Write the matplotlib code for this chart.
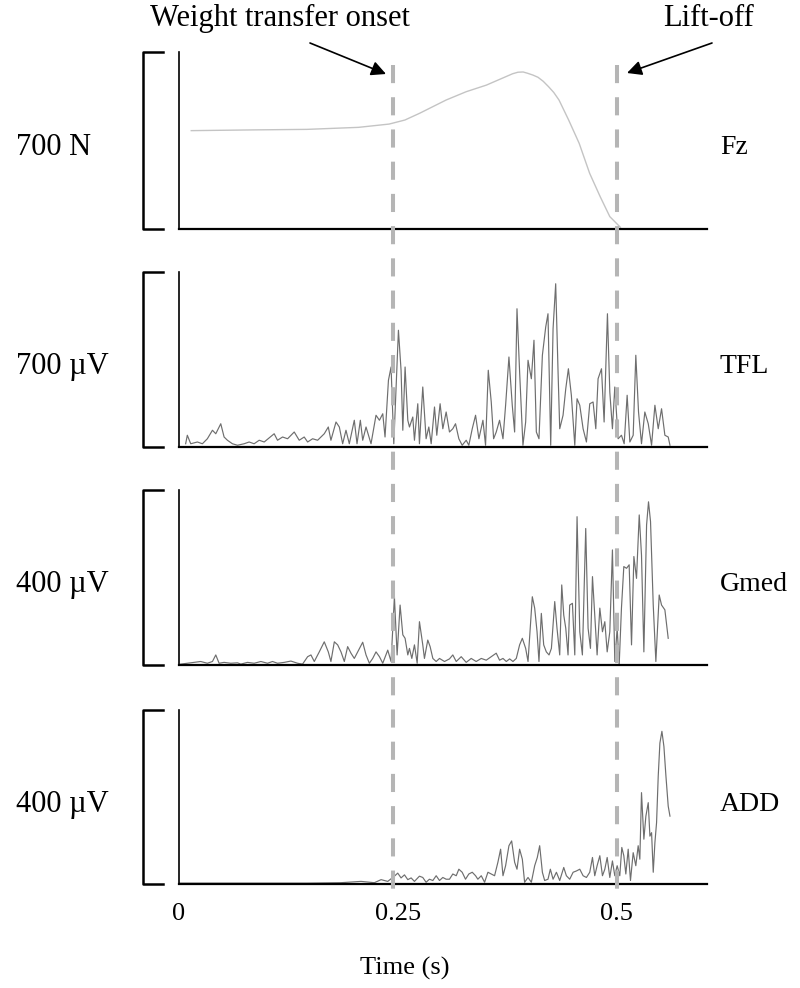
import numpy as np
import matplotlib
matplotlib.use('Agg')
import matplotlib.pyplot as plt
from matplotlib import transforms
from matplotlib.lines import Line2D
from matplotlib.patches import FancyArrowPatch

plt.rcParams['font.family'] = ['Liberation Serif', 'DejaVu Serif']

# vertical ground reaction force (ms, N)
fz_t = [14, 87, 146, 205, 240, 258, 275, 305, 328, 351, 363, 375, 381, 387,
        393, 398, 404, 410, 416, 422, 428, 434, 445, 457, 469, 481, 492, 504]
fz_n = [389, 392, 394, 402, 415, 431, 458, 510, 543, 569, 587, 605, 614, 620,
        621, 616, 609, 600, 584, 563, 540, 510, 431, 339, 220, 128, 49, 7]

# TFL emg (ms, uV)
tfl_t = [7.6, 9.5, 13.4, 21, 26.7, 32.4, 38.2, 42, 47.7, 51.5,
         55.3, 61, 66.8, 74.4, 80.1, 85.8, 91.6, 97.3, 108.7, 112.5,
         118.3, 124, 131.6, 137.3, 143, 146.9, 152.6, 158.3, 162.1, 165.9,
         170.5, 173.5, 179.3, 183.1, 186.9, 190.7, 194.5, 200.2, 203.3, 207.1,
         209.8, 213.6, 219.3, 225, 228.9, 232.7, 235.3, 239.2, 242.2, 245.3,
         250.6, 253.6, 255.6, 258.2, 261.3, 263.2, 267, 268.9, 272.7, 274.6,
         278.4, 282.2, 285.3, 288, 291.8, 294.4, 298.2, 301.3, 305.1, 308.9,
         312.7, 315.8, 319.6, 323.4, 328, 331, 334.9, 338.7, 342.5, 347.1,
         350.1, 353.2, 356.6, 359.3, 362.3, 366.1, 370, 373, 376.8, 380.6,
         383.3, 386, 389, 392.8, 395.9, 398.6, 402.4, 405.4, 408.1, 411.1,
         415, 418.8, 421.4, 424.5, 427.2, 430.2, 432.9, 434.8, 438.6, 441.7,
         444.7, 448.1, 452, 454.6, 457.7, 461.5, 465.3, 469.1, 472.9, 476,
         478.6, 482.5, 485.5, 489.3, 492, 495, 497.7, 501.5, 505.3, 508.4,
         511.8, 514.9, 518.7, 521.7, 524.8, 528.2, 532, 535.9, 539.7, 543.5,
         547.3, 551.1, 554.9, 558.7, 560.7]
tfl_uv = [13, 47, 13, 20, 13, 33, 67, 53, 93, 40,
          27, 13, 7, 13, 20, 13, 27, 20, 53, 27,
          40, 33, 60, 27, 40, 20, 33, 27, 40, 53,
          80, 27, 100, 80, 13, 67, 13, 107, 13, 107,
          27, 80, 13, 127, 107, 133, 40, 267, 320, 13,
          467, 307, 67, 320, 107, 80, 120, 27, 173, 13,
          240, 33, 80, 13, 160, 47, 173, 73, 140, 60,
          73, 93, 33, 7, 27, 7, 73, 127, 33, 107,
          7, 307, 180, 33, 60, 107, 33, 167, 360, 167,
          60, 553, 300, 7, 100, 347, 273, 427, 60, 33,
          367, 480, 533, 7, 473, 653, 300, 73, 127, 233,
          313, 207, 7, 193, 167, 73, 20, 173, 180, 73,
          273, 313, 100, 533, 220, 73, 240, 33, 47, 13,
          207, 20, 47, 367, 140, 13, 140, 93, 7, 167,
          73, 153, 47, 40, 7]

# Gmed emg (ms, uV)
gmed_t = [1.9, 9.5, 17.2, 24.8, 32.4, 38.2, 42, 45.8, 51.5, 59.1,
          66.8, 70.6, 78.2, 85.8, 93.5, 101.1, 106.8, 112.5, 120.2, 127.8,
          135.4, 141.1, 146.9, 150.7, 154.5, 160.2, 165.9, 170.5, 173.5, 177.4,
          181.2, 185, 188.8, 192.6, 196.4, 200.2, 204.1, 209.8, 213.6, 217.4,
          221.2, 225, 228.9, 232.7, 238.4, 242.2, 246, 249.1, 252.5, 255.6,
          258.2, 261.3, 263.2, 265.9, 268.9, 272, 274.6, 278.4,
          280.3, 284.1, 286.8, 289.9, 293.7, 297.5, 303.2, 308.9, 312.7, 316.6,
          322.3, 328, 333.7, 339.4, 345.2, 350.9, 356.6, 362.3, 366.1, 370,
          373.8, 377.6, 381.4, 385.2, 389, 392.1, 395.9, 398.6, 403.5, 406.2,
          408.9, 411.1, 413.8, 416.5, 419.5, 422.6, 425.3, 429.1, 431.7, 434.8,
          437.1, 439.4, 441.7, 444.3, 446.2, 449.3, 452, 454.6, 457.7, 460.7,
          464.5, 467.2, 469.9, 472.2, 474.8, 477.5, 480.6, 483.6, 486.3, 489,
          492, 495, 497.7, 500.4, 502.7, 505.3, 508, 511.1, 514.1, 516.8,
          519.5, 522.5, 525.6, 528.2, 530.9, 534, 536.2, 538.5, 541.6, 544.6,
          548.4, 551.1, 554.9, 558.7]
gmed_uv = [2, 4, 6, 8, 4, 8, 23, 4, 6, 4,
           5, 2, 6, 4, 8, 4, 8, 4, 6, 9,
           4, 2, 19, 23, 8, 30, 53, 30, 8, 53,
           46, 30, 8, 42, 27, 15, 30, 52, 23, 4,
           15, 30, 19, 4, 34, 8, 156, 23, 137, 69,
           61, 23, 38, 15, 46, 4, 99, 46,
           15, 57, 42, 15, 8, 15, 8, 14, 23, 8,
           19, 6, 15, 8, 15, 11, 19, 27, 11, 15,
           8, 14, 8, 15, 46, 61, 38, 8, 156, 130,
           76, 8, 118, 46, 30, 23, 38, 145, 84, 23,
           183, 114, 84, 23, 137, 141, 23, 339, 76, 23,
           312, 84, 38, 202, 114, 23, 130, 76, 99, 30,
           76, 263, 8, 84, 0, 130, 225, 221, 229, 46,
           248, 198, 343, 251, 30, 320, 373, 328, 137, 8,
           160, 137, 126, 61]

# ADD emg (ms, uV)
add_t = [0, 32.4, 70.6, 108.7, 146.9, 185, 207.9, 223.1, 230.8, 238.4,
         246, 249.8, 253.6, 257.5, 261.3, 265.1, 268.9, 274.6,
         278.4, 282.2, 286, 289.9, 293.7, 297.5, 301.3, 305.1, 308.9, 312.7,
         316.6, 319.6, 323.4, 327.2, 331, 334.9, 338.7, 341.3, 345.2, 349,
         352.8, 356.6, 360.4, 364.2, 367.3, 370, 373, 376.8, 379.9, 383.3,
         386, 389, 392.1, 394.7, 398.6, 402.4, 406.2, 409.2, 411.9, 415,
         417.6, 421.4, 424.1, 427.2, 431, 434.8, 439.4, 442.4, 446.2, 450.1,
         453.9, 457.7, 461.5, 465.3, 469.1, 472.2, 474.8, 477.5, 480.6, 483.6,
         486.3, 489, 492, 495, 497.7, 500.4, 503.4, 505.7, 508, 510.3,
         513, 515.6, 518.7, 521.7, 524.4, 526.3, 528.2, 530.9, 533.2, 535.9,
         537.8, 539.7, 541.6, 543.5, 545.4, 547.3, 549.2, 551.5, 553.8, 556.1,
         558.7, 560.7]
add_uv = [2, 2, 2, 2, 2, 3, 6, 3, 10, 6,
          18, 25, 14, 21, 10, 14, 6, 18,
          15, 4, 11, 8, 19, 8, 15, 11, 11, 23,
          19, 34, 27, 11, 23, 27, 19, 11, 19, 4,
          27, 23, 19, 50, 80, 19, 42, 88, 99, 50,
          34, 80, 57, 4, 15, 4, 42, 61, 88, 27,
          8, 11, 34, 11, 27, 8, 38, 19, 11, 27,
          30, 34, 19, 15, 27, 61, 19, 42, 65, 19,
          34, 61, 15, 53, 19, 42, 19, 84, 65, 23,
          80, 8, 72, 42, 88, 57, 210, 103, 156, 187,
          110, 118, 27, 95, 141, 248, 324, 351, 316, 248,
          179, 156]

onset_t = 0.244
liftoff_t = 0.5

panels = [
    ('Fz', '700 N', fz_t, fz_n, 700, '#c4c4c4', 1.0),
    ('TFL', '700 \u00b5V', tfl_t, tfl_uv, 700, '#6e6e6e', 0.85),
    ('Gmed', '400 \u00b5V', gmed_t, gmed_uv, 400, '#6e6e6e', 0.85),
    ('ADD', '400 \u00b5V', add_t, add_uv, 400, '#6e6e6e', 0.85),
]

W, H = 800, 988
fig = plt.figure(figsize=(W / 100, H / 100), dpi=100)
tops = [52, 272, 490, 710]
bots = [229, 447, 665, 884]

axes = []
for i, (name, scale, t, v, vmax, col, lw) in enumerate(panels):
    ax = fig.add_axes([179 / W, 1 - bots[i] / H, 528 / W, (bots[i] - tops[i]) / H])
    ax.plot(np.array(t) / 1000, v, color=col, lw=lw)
    ax.set_xlim(0, 0.603)
    ax.set_ylim(0, vmax)
    for s in ['top', 'right']:
        ax.spines[s].set_visible(False)
    ax.spines['left'].set_linewidth(1.2)
    ax.spines['bottom'].set_linewidth(1.6)
    ax.set_yticks([])
    if i < 3:
        ax.set_xticks([])
    else:
        ax.set_xticks([0, 0.25, 0.5])
        ax.set_xticklabels(['0', '0.25', '0.5'], fontsize=19)
        ax.tick_params(axis='x', length=0, pad=14)
    # scale bracket
    ax.plot([-0.030, -0.068, -0.068, -0.030], [1, 1, 0, 0], color='k', lw=1.8,
            transform=ax.transAxes, clip_on=False)
    ymid = 1 - ((tops[i] + bots[i]) / 2 + 7) / H
    fig.text(16 / W, ymid, scale, fontsize=22, ha='left', va='center')
    fig.text(720 / W, ymid, name, fontsize=20, ha='left', va='center')
    axes.append(ax)

# dashed event lines spanning all panels
trans = transforms.blended_transform_factory(axes[0].transData, fig.transFigure)
for xe in [onset_t, liftoff_t]:
    fig.add_artist(Line2D([xe, xe], [1 - 65 / H, 1 - 895 / H], transform=trans,
                          color='#b5b5b5', lw=2.9, linestyle=(0, (4.5, 3.5))))

fig.text(280 / W, 1 - 18 / H, 'Weight transfer onset', fontsize=22, ha='center', va='center')
fig.text(708 / W, 1 - 18 / H, 'Lift-off', fontsize=22, ha='center', va='center')
arrow = dict(arrowstyle='-|>', color='k', lw=1.2, mutation_scale=22, shrinkA=0, shrinkB=0)
fig.add_artist(FancyArrowPatch((310 / W, 1 - 43 / H), (386 / W, 1 - 74 / H),
                               transform=fig.transFigure, **arrow))
fig.add_artist(FancyArrowPatch((712 / W, 1 - 43 / H), (627 / W, 1 - 73 / H),
                               transform=fig.transFigure, **arrow))

fig.text(405 / W, 1 - 968 / H, 'Time (s)', fontsize=19, ha='center', va='center')

fig.savefig('out.png', dpi=100, facecolor='white')
